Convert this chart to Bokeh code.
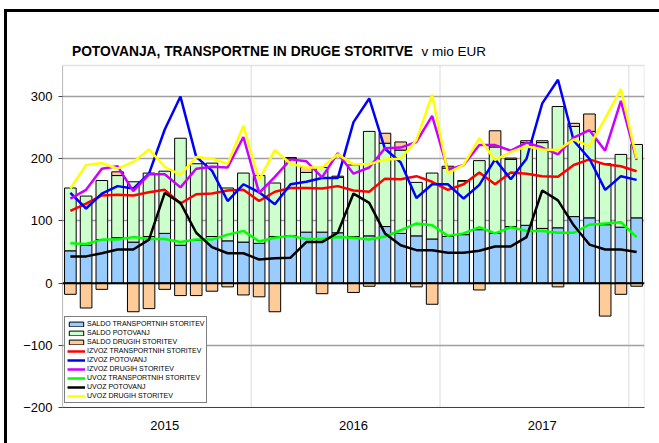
import numpy as np
from bokeh.plotting import figure
from bokeh.models import (Range1d, FixedTicker, Span, Label, Legend, LegendItem,
                          ColumnDataSource, BoxAnnotation)
from bokeh.embed import file_html
from bokeh.resources import INLINE

# ---- data (mio EUR), monthly Jan 2015 .. Jan 2018 ----
years = ["2015", "2016", "2017"]

saldo_transport = [52, 61, 70, 73, 66, 75, 80, 61, 69, 75, 68, 66,
                   64, 75, 76, 82, 82, 81, 75, 76, 91, 80, 76, 71,
                   75, 78, 86, 80, 91, 93, 88, 89, 107, 105, 94, 90, 105]
saldo_potovanj = [101, 79, 95, 100, 97, 102, 100, 172, 123, 118, 85, 111,
                  109, 86, 124, 96, 104, 89, 115, 168, 134, 134, 86, 106,
                  110, 86, 111, 139, 108, 133, 138, 195, 145, 139, 98, 117, 118]
saldo_drugih = [-18, -40, -10, 6, -46, -41, -10, -20, -20, -13, -6, -19,
                -22, -46, 2, 8, -17, 2, -15, -5, 16, 13, -6, -34,
                3, 1, -11, 26, 2, 3, 3, -6, 5, 28, -53, -18, -5]

izvoz_transport = [116, 128, 141, 142, 141, 146, 150, 128, 143, 144, 149, 150,
                   132, 147, 153, 153, 152, 156, 149, 147, 168, 167, 172, 163,
                   150, 159, 178, 159, 178, 176, 172, 171, 190, 199, 191, 188, 180]
izvoz_potovanj = [145, 120, 144, 156, 152, 176, 247, 300, 203, 181, 132, 159,
                  146, 127, 159, 163, 169, 169, 259, 297, 216, 194, 137, 159,
                  159, 136, 158, 199, 167, 200, 289, 327, 229, 200, 150, 172, 166]
izvoz_drugih = [136, 150, 184, 188, 148, 175, 175, 154, 184, 187, 186, 235,
                145, 171, 199, 196, 170, 209, 176, 186, 217, 218, 227, 269,
                182, 190, 222, 222, 213, 226, 218, 207, 234, 246, 213, 293, 198]
uvoz_transport = [64, 63, 70, 70, 74, 71, 71, 66, 70, 70, 78, 84,
                  67, 73, 76, 71, 71, 74, 73, 70, 75, 85, 96, 93,
                  76, 80, 90, 80, 90, 84, 84, 81, 81, 94, 96, 98, 74]
uvoz_potovanj = [43, 43, 48, 54, 54, 70, 145, 129, 81, 58, 48, 48,
                 38, 40, 41, 66, 66, 81, 144, 129, 80, 61, 53, 53,
                 49, 49, 52, 59, 59, 74, 149, 133, 93, 62, 54, 54, 50]
uvoz_drugih = [152, 190, 193, 184, 195, 215, 187, 174, 203, 200, 192, 253,
               166, 214, 192, 186, 186, 207, 191, 191, 199, 200, 230, 303,
               177, 190, 233, 198, 211, 220, 215, 214, 231, 220, 265, 312, 200]

legend_labels = ["SALDO TRANSPORTNIH STORITEV", "SALDO POTOVANJ", "SALDO DRUGIH STORITEV",
                 "IZVOZ TRANSPORTNIH STORITEV", "IZVOZ POTOVANJ", "IZVOZ DRUGIH STORITEV",
                 "UVOZ TRANSPORTNIH STORITEV", "UVOZ POTOVANJ", "UVOZ DRUGIH STORITEV"]
title_bold = "POTOVANJA, TRANSPORTNE IN DRUGE STORITVE"
title_unit = "v mio EUR"

# ---- derived stacking ----
n = len(saldo_transport)
x = np.arange(n) + 0.5
t = np.array(saldo_transport, float)
pt = np.array(saldo_potovanj, float)
d = np.array(saldo_drugih, float)
d_bottom = np.where(d >= 0, t + pt, 0.0)
d_top = np.where(d >= 0, t + pt + d, d)

src = ColumnDataSource(dict(
    x=x, t=t, tp=t + pt, zero=np.zeros(n), db=d_bottom, dt=d_top,
    it=izvoz_transport, ip=izvoz_potovanj, idr=izvoz_drugih,
    ut=uvoz_transport, up=uvoz_potovanj, ud=uvoz_drugih))

FONT = "Liberation Sans"
Y_MIN, Y_MAX = -200, 350
Y_TOP = 435.2          # extra room above the plot area for the title

p = figure(width=652, height=431, output_backend="svg", toolbar_location=None,
           x_range=Range1d(0, n), y_range=Range1d(Y_MIN, Y_TOP),
           min_border_left=55, min_border_right=15, min_border_top=0, min_border_bottom=36,
           frame_width=582, frame_height=395)
p.background_fill_color = "white"
p.border_fill_color = "white"
p.outline_line_color = None
p.styles = {"margin-left": "4px", "margin-top": "9px",
            "border-top": "3px solid black", "border-left": "3px solid black"}

# axes
p.yaxis.ticker = FixedTicker(ticks=[-200, -100, 0, 100, 200, 300])
p.yaxis.major_label_text_font = FONT
p.yaxis.major_label_text_font_size = "13px"
p.yaxis.major_label_text_color = "black"
p.yaxis.axis_line_color = None
p.yaxis.major_tick_line_color = "#404040"
p.yaxis.major_tick_out = 4
p.yaxis.major_tick_in = 0
p.yaxis.minor_tick_line_color = None
p.yaxis.major_label_standoff = 6

year_pos = [12 * k + 6.5 for k in range(len(years))]
p.xaxis.ticker = FixedTicker(ticks=year_pos)
p.xaxis.major_label_overrides = {pos: lab for pos, lab in zip(year_pos, years)}
p.xaxis.major_label_text_font = FONT
p.xaxis.major_label_text_font_size = "13px"
p.xaxis.major_label_text_color = "black"
p.xaxis.major_tick_line_color = None
p.xaxis.minor_tick_line_color = None
p.xaxis.axis_line_color = "#404040"
p.xaxis.major_label_standoff = 7

p.ygrid.grid_line_color = "#a0a0a0"
p.ygrid.grid_line_width = 1.5
p.xgrid.grid_line_color = None

# plot-area frame, year separators, value axis line
p.add_layout(BoxAnnotation(left=0, right=n, bottom=Y_MIN, top=Y_MAX, fill_alpha=0,
                           line_color="#a0a0a0", line_width=1.5, level="underlay"))
for k in range(1, len(years) + 1):
    p.add_layout(BoxAnnotation(left=12 * k, right=12 * k, bottom=Y_MIN, top=Y_MAX, fill_alpha=0,
                               line_color="#b0b0b0", line_width=1.5, level="underlay"))
p.add_layout(BoxAnnotation(left=0, right=0, bottom=Y_MIN, top=Y_MAX, fill_alpha=0,
                           line_color="#404040", line_width=1))

W = 0.74
r_t = p.vbar(x="x", bottom="zero", top="t", width=W, source=src,
             fill_color="#99ccff", line_color="black", line_width=1)
r_p = p.vbar(x="x", bottom="t", top="tp", width=W, source=src,
             fill_color="#ccffcc", line_color="black", line_width=1)
r_d = p.vbar(x="x", bottom="db", top="dt", width=W, source=src,
             fill_color="#ffcc99", line_color="black", line_width=1)

p.add_layout(Span(location=0, dimension="width", line_color="black", line_width=2))

LW = 2.5
r_it = p.line("x", "it", source=src, line_color="#ff0000", line_width=LW)
r_ip = p.line("x", "ip", source=src, line_color="#0000ff", line_width=LW)
r_id = p.line("x", "idr", source=src, line_color="#cc00ff", line_width=LW)
r_ut = p.line("x", "ut", source=src, line_color="#00ff00", line_width=LW)
r_up = p.line("x", "up", source=src, line_color="#000000", line_width=LW)
r_ud = p.line("x", "ud", source=src, line_color="#ffff00", line_width=LW)

rends = [r_t, r_p, r_d, r_it, r_ip, r_id, r_ut, r_up, r_ud]
legend = Legend(items=[LegendItem(label=l, renderers=[r]) for l, r in zip(legend_labels, rends)],
                location=(2, 4), orientation="vertical")
legend.label_text_font = FONT
legend.label_text_font_size = "7px"
legend.label_text_color = "black"
legend.label_height = 9
legend.label_standoff = 2
legend.glyph_height = 6
legend.glyph_width = 18
legend.spacing = 0
legend.padding = 2
legend.margin = 0
legend.border_line_color = "black"
legend.border_line_width = 1
legend.background_fill_color = "white"
legend.background_fill_alpha = 1
p.add_layout(legend, "center")

# title (bold part + normal part), placed in the space above the plot area
p.add_layout(Label(x=0.6, y=371.7, text=title_bold,
                   text_font=FONT, text_font_size="13.8px", text_font_style="bold",
                   text_color="black", text_baseline="alphabetic"))
p.add_layout(Label(x=22.82, y=371.7, text=title_unit,
                   text_font=FONT, text_font_size="13.5px", text_font_style="normal",
                   text_color="black", text_baseline="alphabetic"))

open("out.html", "w").write(file_html(p, INLINE))
